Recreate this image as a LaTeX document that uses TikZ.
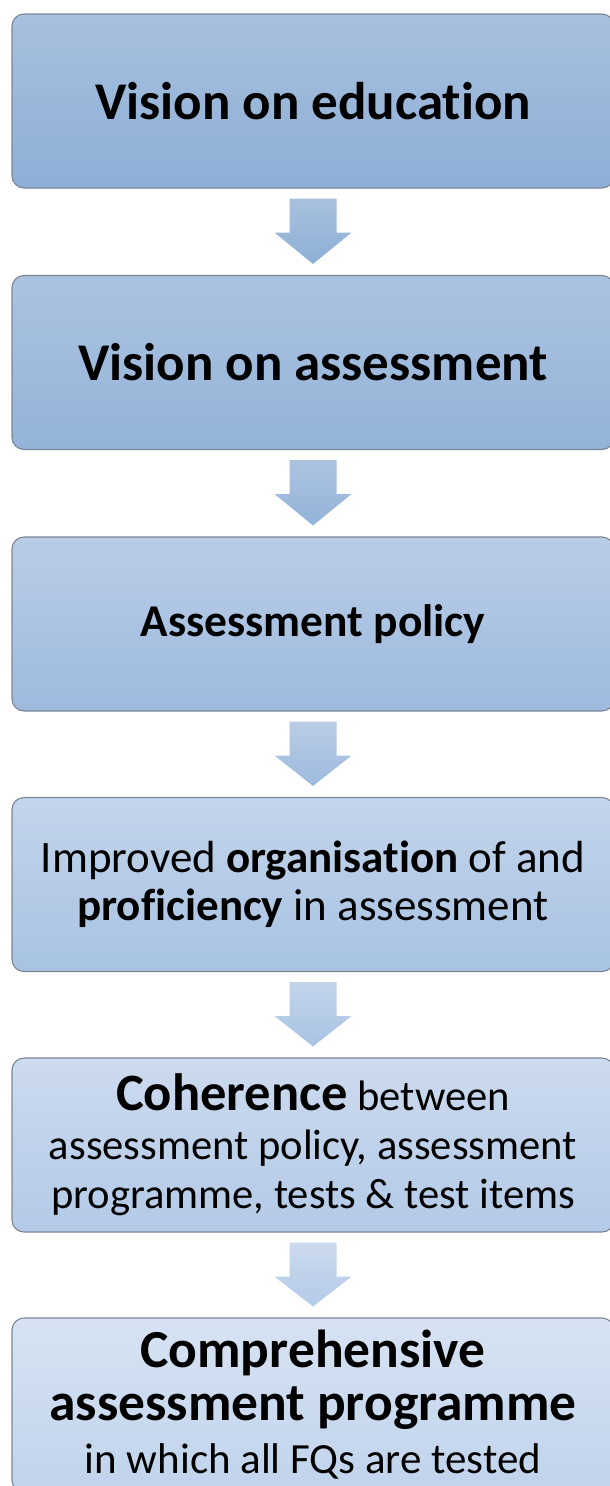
\documentclass[tikz,border=0pt]{standalone}
\usepackage{fontspec}
\setmainfont{Carlito}[Ligatures=NoCommon]
\usetikzlibrary{calc}

\definecolor{boxline}{HTML}{7A8696}
\definecolor{topA}{HTML}{A8C0DE}\definecolor{botA}{HTML}{8DAFD6}
\definecolor{topB}{HTML}{ACC3E0}\definecolor{botB}{HTML}{93B3D9}
\definecolor{topC}{HTML}{BACDE7}\definecolor{botC}{HTML}{9DBADE}
\definecolor{topD}{HTML}{C3D4EB}\definecolor{botD}{HTML}{A8C3E3}
\definecolor{topE}{HTML}{CCDAEE}\definecolor{botE}{HTML}{B3CAE8}
\definecolor{topF}{HTML}{D7E3F3}\definecolor{botF}{HTML}{C0D3EC}

% block arrow pointing down from one stage to the next
\newcommand\flowarrow[4]{%
  \path[top color=#3, bottom color=#4]
    ($(#1.south)+(-23.5,10)$) -- ($(#1.south)+(23.5,10)$) --
    ($(#1.south)+(23.5,44)$) -- ($(#1.south)+(38.5,44)$) --
    ($(#2.north)+(0,-11)$) --
    ($(#1.south)+(-38.5,44)$) -- ($(#1.south)+(-23.5,44)$) -- cycle;}

\begin{document}
\begin{tikzpicture}[x=1pt,y=-1pt,
  stage/.style={draw=boxline, line width=1.1pt, rounded corners=12pt,
    minimum width=602pt, minimum height=174pt, inner sep=0pt,
    align=center, text=black},
  big/.style={font=\fontsize{53}{60}\selectfont\bfseries},
]
\useasboundingbox (0,0) rectangle (610,1486);
\clip (0,0) rectangle (610,1486);

\node[stage, big, top color=topA, bottom color=botA] (s1) at (313,101)
  {Vision on education};
\node[stage, big, top color=topB, bottom color=botB] (s2) at (313,362.5)
  {Vision on assessment};
\node[stage, top color=topC, bottom color=botC,
  font=\fontsize{45.5}{52}\selectfont\bfseries] (s3) at (313,624)
  {Assessment policy};
\node[stage, top color=topD, bottom color=botD,
  font=\fontsize{45}{48}\selectfont] (s4) at (313,884.5)
  {Improved \textbf{organisation} of and\\ \textbf{proficiency} in assessment};
\node[stage, top color=topE, bottom color=botE,
  font=\fontsize{42.6}{49}\selectfont] (s5) at (313,1145)
  {{\fontsize{52.5}{49}\selectfont\bfseries Coherence} between\\
   assessment policy, assessment\\ programme, tests \& test items};
\node[stage, top color=topF, bottom color=botF,
  font=\fontsize{43}{53}\selectfont] (s6) at (313,1405)
  {{\fontsize{53.5}{60}\selectfont\bfseries Comprehensive}\\
   {\fontsize{53.5}{58}\selectfont\bfseries assessment programme}\\
   in which all FQs are tested};

\flowarrow{s1}{s2}{topA}{botA}
\flowarrow{s2}{s3}{topB}{botB}
\flowarrow{s3}{s4}{topC}{botC}
\flowarrow{s4}{s5}{topD}{botD}
\flowarrow{s5}{s6}{topE}{botE}
\end{tikzpicture}
\end{document}
